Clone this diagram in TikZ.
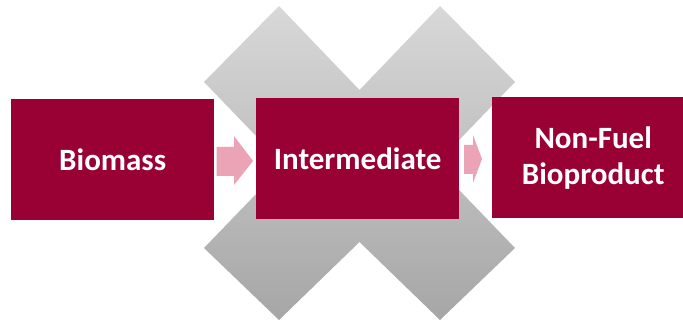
\documentclass[tikz,border=0pt]{standalone}
\usepackage{fontspec}
\setmainfont{Carlito}
\definecolor{boxred}{HTML}{990033}
\definecolor{arrowpink}{HTML}{EBA3B6}
\definecolor{xtop}{HTML}{D8D8D8}
\definecolor{xbot}{HTML}{A6A6A6}
\tikzset{
  stagebox/.style={fill=boxred, draw=none, text=white, font=\bfseries\fontsize{31}{36}\selectfont,
    align=center, inner sep=0pt, anchor=north west},
  blockarrow/.style={fill=arrowpink, draw=none},
}
\begin{document}
\begin{tikzpicture}[x=1pt,y=-1pt]
\useasboundingbox (0,0) rectangle (683,326);
% big grey X
\shade[top color=xtop, bottom color=xbot]
  (279,6) -- (359.5,90) -- (440,6) -- (515,82) -- (435,165) -- (515,248) -- (440,320)
  -- (359.5,242) -- (279,320) -- (204,248) -- (284,165) -- (204,82) -- cycle;
% boxes
\node[stagebox, minimum width=203pt, minimum height=121pt] (bio) at (11,99) {Biomass};
\node[stagebox, minimum width=203pt, minimum height=121pt] (inter) at (256,98) {Intermediate};
\node[stagebox, minimum width=202pt, minimum height=121pt] (prod) at (492,97) {Non-Fuel\\Bioproduct};
% block arrows
\fill[blockarrow] (216.5,147) -- (234,147) -- (234,136) -- (253,161) -- (234,185) -- (234,176) -- (216.5,176) -- cycle;
\fill[blockarrow] (464,145) -- (473,145) -- (473,135) -- (482,159) -- (473,183) -- (473,174) -- (464,174) -- cycle;
\end{tikzpicture}
\end{document}
